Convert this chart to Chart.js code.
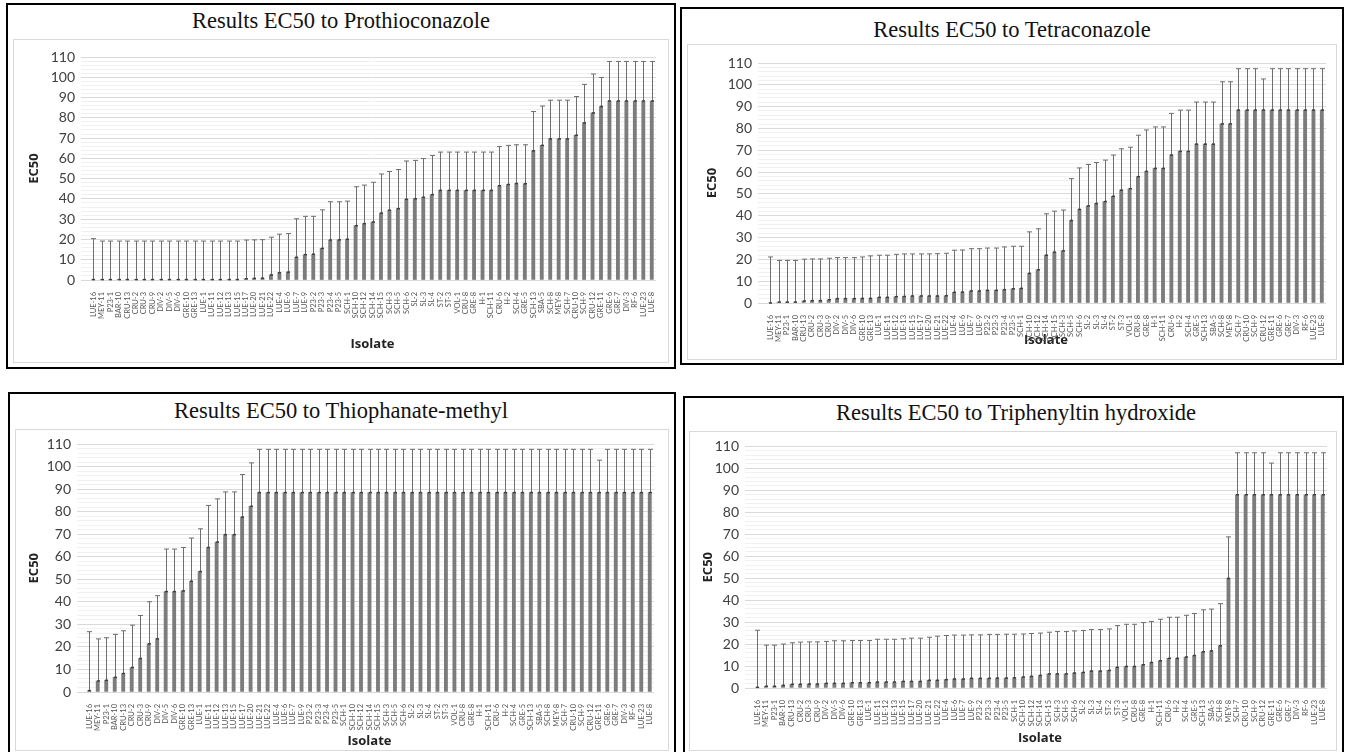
<!DOCTYPE html>
<html><head><meta charset="utf-8">
<script src="https://cdn.jsdelivr.net/npm/chart.js@4"></script>
<style>
body{margin:0;background:#fff;width:1346px;height:752px;overflow:hidden;position:relative;font-family:Lato,sans-serif}
.frame{position:absolute;border:2px solid #000;box-sizing:border-box}
.inner{position:absolute;border:1px solid #d9d9d9;box-sizing:border-box}
.title{position:absolute;font-family:"Liberation Serif",serif;font-size:22.5px;color:#111;white-space:nowrap;transform:translate(-50%,-50%)}
canvas{position:absolute}
</style></head><body>
<div class="frame" style="left:6px;top:3px;width:670px;height:366px"></div>
<div class="inner" style="left:13px;top:39px;width:656px;height:324px"></div>
<div class="title" style="left:341px;top:21px">Results EC50 to Prothioconazole</div>
<canvas id="c1" style="left:14px;top:40px" width="654" height="322"></canvas>

<div class="frame" style="left:680px;top:7px;width:664px;height:358px"></div>
<div class="inner" style="left:687px;top:44px;width:650px;height:316px"></div>
<div class="title" style="left:1012px;top:30px">Results EC50 to Tetraconazole</div>
<canvas id="c2" style="left:688px;top:45px" width="648" height="314"></canvas>

<div class="frame" style="left:8px;top:392px;width:668px;height:362px"></div>
<div class="inner" style="left:15px;top:429px;width:654px;height:322px"></div>
<div class="title" style="left:341px;top:411px">Results EC50 to Thiophanate-methyl</div>
<canvas id="c3" style="left:16px;top:430px" width="652" height="320"></canvas>

<div class="frame" style="left:683px;top:396px;width:661px;height:358px"></div>
<div class="inner" style="left:689px;top:431px;width:648px;height:320px"></div>
<div class="title" style="left:1016px;top:413px">Results EC50 to Triphenyltin hydroxide</div>
<canvas id="c4" style="left:690px;top:432px" width="646" height="318"></canvas>

<script>
const isolates = ["LUE-16","MEY-11","P23-1","BAR-10","CRU-13","CRU-2","CRU-3","CRU-9","DIV-2","DIV-5","DIV-6","GRE-10","GRE-13","LUE-1","LUE-11","LUE-12","LUE-13","LUE-15","LUE-17","LUE-20","LUE-21","LUE-22","LUE-4","LUE-6","LUE-7","LUE-9","P23-2","P23-3","P23-4","P23-5","SCH-1","SCH-10","SCH-12","SCH-14","SCH-15","SCH-3","SCH-5","SCH-6","SL-2","SL-3","SL-4","ST-2","ST-3","VOL-1","CRU-8","GRE-8","H-1","SCH-11","CRU-6","H-2","SCH-4","GRE-5","SCH-13","SBA-5","SCH-8","MEY-8","SCH-7","CRU-10","SCH-9","CRU-12","GRE-11","GRE-6","GRE-7","DIV-3","RF-6","LUE-23","LUE-8"];

const yTickLabels = [0,10,20,30,40,50,60,70,80,90,100,110];

const prothioEC50 = [0.2,0.2,0.2,0.2,0.2,0.2,0.2,0.2,0.2,0.2,0.2,0.2,0.2,0.2,0.2,0.2,0.2,0.2,0.6,0.8,0.9,2.5,3.6,3.9,11.2,12.5,12.7,15.6,19.7,19.8,20.1,26.8,27.8,28.6,33,34.4,35.2,39.8,40.1,40.8,42.1,44.2,44.2,44.2,44.2,44.2,44.2,44.2,46.5,47.1,47.6,47.5,63.7,66.4,69.6,69.6,69.6,71.4,77.5,82.4,85.6,88.3,88.3,88.3,88.3,88.3,88.3];
const prothioUpper = [20.4,19.2,19.2,19.2,19.2,19.2,19.2,19.2,19.2,19.2,19.2,19.2,19.2,19.2,19.2,19.2,19.2,19.2,19.7,19.8,19.9,21.1,22.6,22.9,30.2,31.4,31.4,34.6,38.6,38.6,38.9,46,46.8,48.2,52.3,53.5,54.5,58.7,59,59.9,61.4,63.1,63.1,63.1,63.1,63.1,63.1,63.1,65.8,66.4,66.7,66.7,83.1,85.8,88.7,88.7,88.7,90.5,96.5,101.6,99.9,107.8,107.8,107.8,107.8,107.8,107.8];

const tetraEC50 = [0,0.4,0.4,0.4,0.9,1.1,1.1,1.5,2,2,2,2.1,2.1,2.6,2.6,2.9,3,3.2,3.2,3.2,3.2,3.3,4.9,5,5.5,5.5,5.8,5.8,6.1,6.5,6.7,13.6,15.2,21.9,23.3,23.9,37.8,42.9,44.5,45.6,46.5,48.9,51.7,52.4,57.9,60.3,61.7,61.7,67.8,69.5,69.5,72.8,72.8,72.8,82.1,82.1,88.4,88.4,88.4,88.4,88.4,88.4,88.4,88.4,88.4,88.4,88.4];
const tetraUpper = [21.1,19.5,19.5,19.5,20.1,20.2,20.2,20.5,20.8,20.8,20.8,21.1,21.6,21.9,21.9,22.3,22.5,22.5,22.5,22.5,22.6,22.8,24.2,24.3,24.9,24.9,25.2,25.2,25.7,26,26,32.6,34,40.9,42.1,42.6,57,61.9,63.5,64.4,65.5,67.8,70.7,71.4,76.9,79.3,80.7,80.7,86.9,88.4,88.4,92.1,92.1,92.1,101.4,101.4,107.4,107.4,107.4,102.7,107.4,107.4,107.4,107.4,107.4,107.4,107.4];

const thioEC50 = [0.6,4.9,5.2,6.5,8.2,10.9,14.9,21.4,23.6,44.6,44.6,44.9,49.2,53.5,64.2,66.6,69.9,69.9,77.7,82.5,88.6,88.6,88.6,88.6,88.6,88.6,88.6,88.6,88.6,88.6,88.6,88.6,88.6,88.6,88.6,88.6,88.6,88.6,88.6,88.6,88.6,88.6,88.6,88.6,88.6,88.6,88.6,88.6,88.6,88.6,88.6,88.6,88.6,88.6,88.6,88.6,88.6,88.6,88.6,88.6,88.6,88.6,88.6,88.6,88.6,88.6,88.6];
const thioUpper = [26.8,23.6,24.1,25.6,27.2,29.7,34,40.1,42.8,63.5,63.5,64.2,68.4,72.5,82.9,85.8,88.9,88.9,96.6,101.8,107.8,107.8,107.8,107.8,107.8,107.8,107.8,107.8,107.8,107.8,107.8,107.8,107.8,107.8,107.8,107.8,107.8,107.8,107.8,107.8,107.8,107.8,107.8,107.8,107.8,107.8,107.8,107.8,107.8,107.8,107.8,107.8,107.8,107.8,107.8,107.8,107.8,107.8,107.8,107.8,103,107.8,107.8,107.8,107.8,107.8,107.8];

const triphEC50 = [0.3,0.8,0.8,1.2,1.7,1.7,1.8,1.8,2.1,2.1,2.1,2.4,2.4,2.4,2.7,2.7,2.7,3,3,3,3.5,3.5,3.8,4.1,4.1,4.4,4.4,4.4,4.5,4.5,4.6,5,5.3,5.7,6.4,6.4,6.4,6.8,7.1,7.7,7.7,8,9.4,9.8,9.8,10.6,11.6,12.4,13.5,13.5,14.1,14.8,16.5,16.9,19.2,49.9,88,88,88,88,88,88,88,88,88,88,88];
const triphUpper = [26.3,19.5,19.5,20,20.6,20.9,21,21,21.2,21.5,21.5,21.6,21.6,21.6,22.2,22.2,22.2,22.4,22.7,22.7,23.1,23.6,23.9,24.1,24.1,24.2,24.2,24.4,24.4,24.5,24.5,24.6,24.8,25,25.4,25.7,25.7,26,26.2,26.6,26.6,26.9,28.4,29,29,29.8,30.3,31.3,32.2,32.2,33.1,33.9,35.6,35.9,38.4,68.8,107.1,107.1,107.1,107.1,102.4,107.1,107.1,107.1,107.1,107.1,107.1];

const errorBarPlugin = {
  id: 'errorBars',
  afterDatasetsDraw(chart, args, opts) {
    const meta = chart.getDatasetMeta(0);
    const ys = chart.scales.y;
    const ctx = chart.ctx;
    const upper = opts.upper;
    ctx.save();
    meta.data.forEach((bar, i) => {
      const x = Math.round(bar.x) + 0.5;
      const yTop = ys.getPixelForValue(upper[i]);
      ctx.strokeStyle = '#6e6e6e';
      ctx.lineWidth = 1;
      ctx.beginPath();
      ctx.moveTo(x, bar.y);
      ctx.lineTo(x, yTop);
      ctx.moveTo(x - 2.5, yTop);
      ctx.lineTo(x + 2.5, yTop);
      ctx.stroke();
      ctx.strokeStyle = '#404040';
      ctx.lineWidth = 1.5;
      ctx.beginPath();
      ctx.moveTo(x - 1.5, bar.y);
      ctx.lineTo(x + 1.5, bar.y);
      ctx.stroke();
    });
    ctx.restore();
  }
};

function makeChart(id, values, upper, pad, yWidth, xHeight) {
  new Chart(document.getElementById(id), {
    type: 'bar',
    data: {
      labels: isolates,
      datasets: [{ data: values, backgroundColor: '#7c7c7c', borderWidth: 0, barThickness: 3.2 }]
    },
    options: {
      responsive: false,
      animation: false,
      layout: { padding: pad },
      plugins: {
        legend: { display: false },
        tooltip: { enabled: false },
        errorBars: { upper: upper }
      },
      scales: {
        x: {
          grid: { display: false },
          border: { display: false },
          ticks: { autoSkip: false, minRotation: 90, maxRotation: 90, padding: 4,
                   font: { family: 'Lato', size: 7.5 }, color: '#555' },
          title: { display: true, text: 'Isolate', font: { family: 'Open Sans', size: 13, weight: 'bold' },
                   color: '#222', padding: { top: 2, bottom: 0 } },
          afterFit(s) { s.height = xHeight; }
        },
        y: {
          min: 0, max: 110,
          border: { display: false },
          grid: { color: c => (c.tick.value % 10 === 0 ? '#d9d9d9' : '#f1f1f1'), lineWidth: 1 },
          ticks: { stepSize: 2, maxTicksLimit: 100, autoSkip: false, padding: 6,
                   font: { family: 'Lato', size: 14 }, color: '#404040',
                   callback: v => (yTickLabels.includes(v) ? String(v) : '') },
          title: { display: true, text: 'EC50', font: { family: 'Open Sans', size: 13, weight: 'bold' },
                   color: '#222', padding: { top: 4, bottom: 4 } },
          afterFit(s) { s.width = yWidth; }
        }
      }
    },
    plugins: [errorBarPlugin]
  });
}

makeChart('c1', prothioEC50, prothioUpper, { top: 17, right: 12, bottom: 10, left: 8 }, 67, 72);
makeChart('c2', tetraEC50, tetraUpper, { top: 18, right: 10, bottom: 11, left: 12 }, 66, 45);
makeChart('c3', thioEC50, thioUpper, { top: 11, right: 14, bottom: 1, left: 6 }, 63, 57);
makeChart('c4', triphEC50, triphUpper, { top: 11, right: 9, bottom: 4, left: 6 }, 57, 58);
</script>
</body></html>
